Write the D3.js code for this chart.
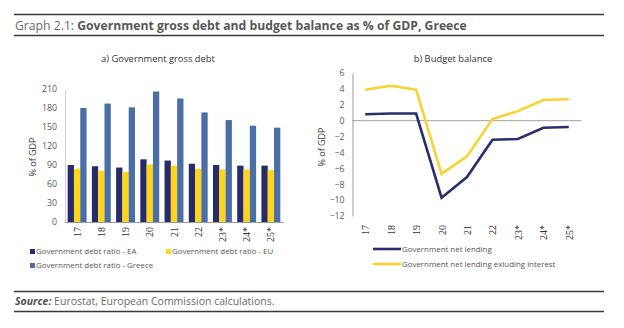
<!DOCTYPE html>
<html>
<head>
<meta charset="utf-8">
<script src="https://cdn.jsdelivr.net/npm/d3@7"></script>
<style>
  body { margin: 0; background: #fff; }
  svg { display: block; }
</style>
</head>
<body>
<svg id="chart" width="624" height="328"></svg>
<script>
// years shown on both panels
var years = ['17', '18', '19', '20', '21', '22', '23*', '24*', '25*'];

// panel a) gross debt, % of GDP
var debtEA = [90, 88, 86, 99, 97, 92, 90, 89, 89];
var debtEU = [84, 81, 79, 91, 89, 84, 83, 83, 82];
var debtGreece = [180, 187, 181, 206, 195, 173, 161, 152, 149];
var debtTicks = [0, 30, 60, 90, 120, 150, 180, 210];

// panel b) budget balance, % of GDP
var netLending = [0.8, 0.9, 0.9, -9.7, -7.1, -2.4, -2.3, -0.9, -0.8];
var netLendingExInt = [3.9, 4.4, 3.9, -6.7, -4.5, 0.2, 1.2, 2.6, 2.7];
var balanceTicks = [-12, -10, -8, -6, -4, -2, 0, 2, 4, 6];

var debtSeries = [
  { name: 'Government debt ratio - EA', values: debtEA, color: '#272b69' },
  { name: 'Government debt ratio - EU', values: debtEU, color: '#ffd51c' },
  { name: 'Government debt ratio - Greece', values: debtGreece, color: '#4a6ea6' }
];
var balanceSeries = [
  { name: 'Government net lending', values: netLending, color: '#2b2e6c' },
  { name: 'Government net lending exluding interest', values: netLendingExInt, color: '#f7d230' }
];

var svg = d3.select('#chart');
var labelFont = 'Open Sans, sans-serif';
var tickColor = '#595959';
var legendSize = 7.9;

// header and footer rules
[14.5, 35.5, 291.5, 311.5].forEach(function (y) {
  svg.append('line')
    .attr('x1', 14).attr('x2', 604)
    .attr('y1', y).attr('y2', y)
    .attr('stroke', '#3a3a3a').attr('stroke-width', 1.3);
});

var title = svg.append('text')
  .attr('x', 15).attr('y', 30)
  .attr('font-family', labelFont)
  .attr('font-size', 12.2)
  .attr('fill', '#6b6b6b');
title.append('tspan').text('Graph 2.1: ');
title.append('tspan').attr('font-weight', 'bold').attr('fill', '#575757')
  .text('Government gross debt and budget balance as % of GDP, Greece');

var source = svg.append('text')
  .attr('x', 15).attr('y', 305)
  .attr('font-family', labelFont)
  .attr('font-size', 10.5)
  .attr('fill', '#6b6b6b');
source.append('tspan').attr('font-weight', 'bold').attr('font-style', 'italic')
  .attr('fill', '#4f4f4f').text('Source:');
source.append('tspan').text(' Eurostat, European Commission calculations.');

// panel titles
svg.append('text')
  .attr('x', 158).attr('y', 62)
  .attr('text-anchor', 'middle')
  .attr('font-family', labelFont).attr('font-size', 9.4).attr('fill', '#333')
  .text('a) Government gross debt');
svg.append('text')
  .attr('x', 453).attr('y', 62)
  .attr('text-anchor', 'middle')
  .attr('font-family', labelFont).attr('font-size', 9.4).attr('fill', '#333')
  .text('b) Budget balance');

function yAxisTitle(x, y) {
  svg.append('text')
    .attr('transform', 'translate(' + x + ',' + y + ') rotate(-90)')
    .attr('text-anchor', 'middle')
    .attr('font-family', labelFont).attr('font-size', 9).attr('fill', '#333')
    .text('% of GDP');
}

function styleAxis(g) {
  g.selectAll('text')
    .attr('font-family', labelFont)
    .attr('font-size', 8.8)
    .attr('fill', tickColor);
}

function rotateYears(g) {
  g.selectAll('text')
    .attr('font-family', 'Liberation Serif, serif')
    .attr('font-size', 10)
    .attr('fill', '#333')
    .attr('transform', 'rotate(-90)')
    .attr('text-anchor', 'end')
    .attr('x', -5)
    .attr('y', 0)
    .attr('dy', '0.35em');
}

// ---- panel a: grouped bars ----
var xA = d3.scaleBand().domain(years).range([65, 283]).paddingInner(0.22).paddingOuter(0.11);
var xInner = d3.scaleBand().domain(d3.range(debtSeries.length)).range([0, xA.bandwidth()]);
var yA = d3.scaleLinear().domain([0, 210]).range([222, 89]);

var yAxisA = svg.append('g')
  .attr('transform', 'translate(65,0)')
  .call(d3.axisLeft(yA).tickValues(debtTicks).tickSize(0).tickPadding(8));
yAxisA.select('.domain').attr('stroke', '#d0d0d0');
styleAxis(yAxisA);

debtSeries.forEach(function (s, si) {
  svg.append('g').selectAll('rect')
    .data(s.values)
    .enter()
    .append('rect')
    .attr('x', function (d, i) { return xA(years[i]) + xInner(si); })
    .attr('width', xInner.bandwidth())
    .attr('y', function (d) { return yA(d); })
    .attr('height', function (d) { return yA(0) - yA(d); })
    .attr('fill', s.color);
});

var xAxisA = svg.append('g')
  .attr('transform', 'translate(0,222)')
  .call(d3.axisBottom(xA).tickSize(0).tickPadding(0));
xAxisA.select('.domain').attr('stroke', '#9a9a9a');
rotateYears(xAxisA);
yAxisTitle(36, 157);

// legend a
var legendA = [
  { s: debtSeries[0], x: 30, y: 251.5 },
  { s: debtSeries[1], x: 166, y: 251.5 },
  { s: debtSeries[2], x: 30, y: 265.5 }
];
legendA.forEach(function (l) {
  svg.append('rect')
    .attr('x', l.x).attr('y', l.y - 2.5)
    .attr('width', 5).attr('height', 5)
    .attr('fill', l.s.color);
  svg.append('text')
    .attr('x', l.x + 6).attr('y', l.y)
    .attr('dy', '0.35em')
    .attr('font-family', labelFont).attr('font-size', legendSize).attr('fill', '#555')
    .text(l.s.name);
});

// ---- panel b: lines ----
var xB = d3.scalePoint().domain(years).range([352.5, 581.5]).padding(0.5);
var yB = d3.scaleLinear().domain([-12, 6]).range([216, 73]);

var yAxisB = svg.append('g')
  .attr('transform', 'translate(352.5,0)')
  .call(d3.axisLeft(yB).tickValues(balanceTicks).tickSize(0).tickPadding(8));
yAxisB.select('.domain').attr('stroke', '#9a9a9a');
styleAxis(yAxisB);

svg.append('line')
  .attr('x1', 352.5).attr('x2', 581.5)
  .attr('y1', yB(0)).attr('y2', yB(0))
  .attr('stroke', '#8a8a8a').attr('stroke-width', 0.8);

var xAxisB = svg.append('g')
  .attr('transform', 'translate(0,' + (yB(-12) + 4) + ')')
  .call(d3.axisBottom(xB).tickSize(0).tickPadding(0));
xAxisB.select('.domain').remove();
rotateYears(xAxisB);
yAxisTitle(325, 147);

var line = d3.line()
  .x(function (d, i) { return xB(years[i]); })
  .y(function (d) { return yB(d); });

balanceSeries.forEach(function (s) {
  svg.append('path')
    .datum(s.values)
    .attr('d', line)
    .attr('fill', 'none')
    .attr('stroke', s.color)
    .attr('stroke-width', 2.6)
    .attr('stroke-linejoin', 'miter');
});

// legend b
balanceSeries.forEach(function (s, i) {
  var y = 249 + i * 15;
  svg.append('line')
    .attr('x1', 373).attr('x2', 401)
    .attr('y1', y).attr('y2', y)
    .attr('stroke', s.color).attr('stroke-width', 2.6);
  svg.append('text')
    .attr('x', 402).attr('y', y)
    .attr('dy', '0.35em')
    .attr('font-family', labelFont).attr('font-size', legendSize).attr('fill', '#555')
    .text(s.name);
});
</script>
</body>
</html>
